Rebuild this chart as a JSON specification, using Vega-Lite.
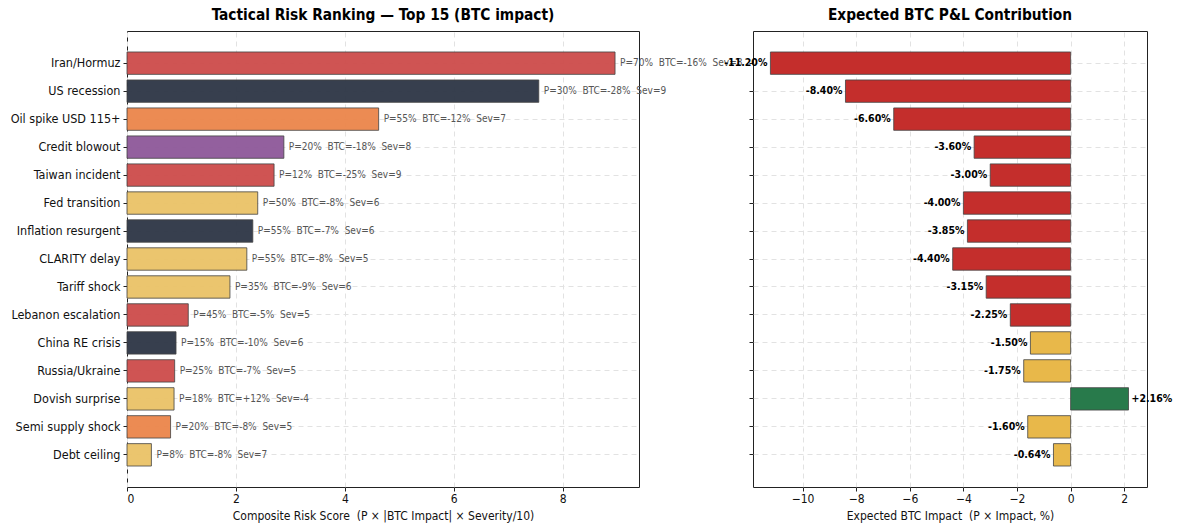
{
  "$schema": "https://vega.github.io/schema/vega-lite/v6.json",
  "background": "white",
  "padding": {"left": 9, "top": 7, "right": 5, "bottom": 5},
  "bounds": "flush",
  "spacing": 114,
  "resolve": {"scale": {"color": "independent", "x": "independent", "y": "independent"}},
  "config": {
    "font": "DejaVu Sans Condensed",
    "view": {"stroke": "#222", "strokeWidth": 1},
    "axis": {
      "domain": false,
      "grid": true,
      "gridColor": "#e2e2e2",
      "gridDash": [5, 4],
      "tickColor": "#222",
      "tickSize": 4,
      "labelFont": "DejaVu Sans Condensed",
      "labelFontSize": 12,
      "labelColor": "#111",
      "titleFont": "DejaVu Sans Condensed",
      "titleFontSize": 12,
      "titleFontWeight": "normal",
      "titleColor": "#111"
    },
    "title": {"font": "DejaVu Sans Condensed", "fontSize": 15.3, "fontWeight": "bold", "offset": 8, "color": "#000"}
  },
  "datasets": {
    "risks": [
      {"event": "Iran/Hormuz", "score": 8.96, "pnl": -11.2, "group": "geo", "dir": "neg_high", "note": "P=70%\u00a0 BTC=-16%\u00a0 Sev=8", "pnl_label": "-11.20%"},
      {"event": "US recession", "score": 7.56, "pnl": -8.4, "group": "macro", "dir": "neg_high", "note": "P=30%\u00a0 BTC=-28%\u00a0 Sev=9", "pnl_label": "-8.40%"},
      {"event": "Oil spike USD 115+", "score": 4.62, "pnl": -6.6, "group": "commodity", "dir": "neg_high", "note": "P=55%\u00a0 BTC=-12%\u00a0 Sev=7", "pnl_label": "-6.60%"},
      {"event": "Credit blowout", "score": 2.88, "pnl": -3.6, "group": "credit", "dir": "neg_high", "note": "P=20%\u00a0 BTC=-18%\u00a0 Sev=8", "pnl_label": "-3.60%"},
      {"event": "Taiwan incident", "score": 2.7, "pnl": -3.0, "group": "geo", "dir": "neg_high", "note": "P=12%\u00a0 BTC=-25%\u00a0 Sev=9", "pnl_label": "-3.00%"},
      {"event": "Fed transition", "score": 2.4, "pnl": -4.0, "group": "policy", "dir": "neg_high", "note": "P=50%\u00a0 BTC=-8%\u00a0 Sev=6", "pnl_label": "-4.00%"},
      {"event": "Inflation resurgent", "score": 2.31, "pnl": -3.85, "group": "macro", "dir": "neg_high", "note": "P=55%\u00a0 BTC=-7%\u00a0 Sev=6", "pnl_label": "-3.85%"},
      {"event": "CLARITY delay", "score": 2.2, "pnl": -4.4, "group": "policy", "dir": "neg_high", "note": "P=55%\u00a0 BTC=-8%\u00a0 Sev=5", "pnl_label": "-4.40%"},
      {"event": "Tariff shock", "score": 1.89, "pnl": -3.15, "group": "policy", "dir": "neg_high", "note": "P=35%\u00a0 BTC=-9%\u00a0 Sev=6", "pnl_label": "-3.15%"},
      {"event": "Lebanon escalation", "score": 1.125, "pnl": -2.25, "group": "geo", "dir": "neg_high", "note": "P=45%\u00a0 BTC=-5%\u00a0 Sev=5", "pnl_label": "-2.25%"},
      {"event": "China RE crisis", "score": 0.9, "pnl": -1.5, "group": "macro", "dir": "neg_low", "note": "P=15%\u00a0 BTC=-10%\u00a0 Sev=6", "pnl_label": "-1.50%"},
      {"event": "Russia/Ukraine", "score": 0.875, "pnl": -1.75, "group": "geo", "dir": "neg_low", "note": "P=25%\u00a0 BTC=-7%\u00a0 Sev=5", "pnl_label": "-1.75%"},
      {"event": "Dovish surprise", "score": 0.864, "pnl": 2.16, "group": "policy", "dir": "pos", "note": "P=18%\u00a0 BTC=+12%\u00a0 Sev=-4", "pnl_label": "+2.16%"},
      {"event": "Semi supply shock", "score": 0.8, "pnl": -1.6, "group": "commodity", "dir": "neg_low", "note": "P=20%\u00a0 BTC=-8%\u00a0 Sev=5", "pnl_label": "-1.60%"},
      {"event": "Debt ceiling", "score": 0.448, "pnl": -0.64, "group": "policy", "dir": "neg_low", "note": "P=8%\u00a0 BTC=-8%\u00a0 Sev=7", "pnl_label": "-0.64%"}
    ]
  },
  "hconcat": [
    {
      "width": 512,
      "height": 456,
      "title": "Tactical Risk Ranking — Top 15 (BTC impact)",
      "data": {"name": "risks"},
      "encoding": {
        "y": {"field": "event", "type": "nominal", "sort": null,
              "scale": {"paddingInner": 0.2, "paddingOuter": 0.75},
              "axis": {"title": null, "bandPosition": 0.5, "labelPadding": 3, "labelFontSize": 12.5}}
      },
      "layer": [
        {
          "mark": {"type": "bar", "stroke": "#444", "strokeWidth": 1, "strokeOpacity": 0.8, "fillOpacity": 0.95},
          "encoding": {
            "x": {"field": "score", "type": "quantitative",
                  "scale": {"domain": [0, 9.4], "nice": false, "zero": true},
                  "axis": {"values": [0, 2, 4, 6, 8], "title": "Composite Risk Score\u00a0 (P × |BTC Impact| × Severity/10)", "titlePadding": 6}},
            "color": {"field": "group", "type": "nominal", "legend": null,
                      "scale": {"domain": ["geo", "macro", "commodity", "credit", "policy"],
                                "range": ["#cc4b4a", "#2c3545", "#eb854a", "#8d5799", "#eac266"]}}
          }
        },
        {
          "mark": {"type": "text", "align": "left", "baseline": "middle", "dx": 5, "fontSize": 10, "color": "#555", "font": "DejaVu Sans Condensed"},
          "encoding": {
            "x": {"field": "score", "type": "quantitative"},
            "text": {"field": "note"}
          }
        }
      ]
    },
    {
      "width": 394,
      "height": 456,
      "title": "Expected BTC P&L Contribution",
      "data": {"name": "risks"},
      "encoding": {
        "y": {"field": "event", "type": "nominal", "sort": null,
              "scale": {"paddingInner": 0.2, "paddingOuter": 0.75},
              "axis": {"title": null, "bandPosition": 0.5, "labels": false}}
      },
      "layer": [
        {
          "mark": {"type": "bar", "stroke": "#444", "strokeWidth": 1, "strokeOpacity": 0.8},
          "encoding": {
            "x": {"field": "pnl", "type": "quantitative",
                  "scale": {"domain": [-11.85, 2.85], "nice": false},
                  "axis": {"values": [-10, -8, -6, -4, -2, 0, 2], "title": "Expected BTC Impact\u00a0 (P × Impact, %)", "titlePadding": 6}},
            "color": {"field": "dir", "type": "nominal", "legend": null,
                      "scale": {"domain": ["neg_high", "neg_low", "pos"], "range": ["#c42e2c", "#e8b84a", "#287a4b"]}}
          }
        },
        {
          "mark": {"type": "rule", "color": "#888", "strokeWidth": 1},
          "encoding": {"x": {"datum": 0}}
        },
        {
          "transform": [{"filter": "datum.pnl < 0"}],
          "mark": {"type": "text", "align": "right", "baseline": "middle", "dx": -3, "fontSize": 10.5, "fontWeight": "bold", "color": "#000"},
          "encoding": {
            "x": {"field": "pnl", "type": "quantitative"},
            "text": {"field": "pnl_label"}
          }
        },
        {
          "transform": [{"filter": "datum.pnl >= 0"}],
          "mark": {"type": "text", "align": "left", "baseline": "middle", "dx": 3, "fontSize": 10.5, "fontWeight": "bold", "color": "#000"},
          "encoding": {
            "x": {"field": "pnl", "type": "quantitative"},
            "text": {"field": "pnl_label"}
          }
        }
      ]
    }
  ]
}
